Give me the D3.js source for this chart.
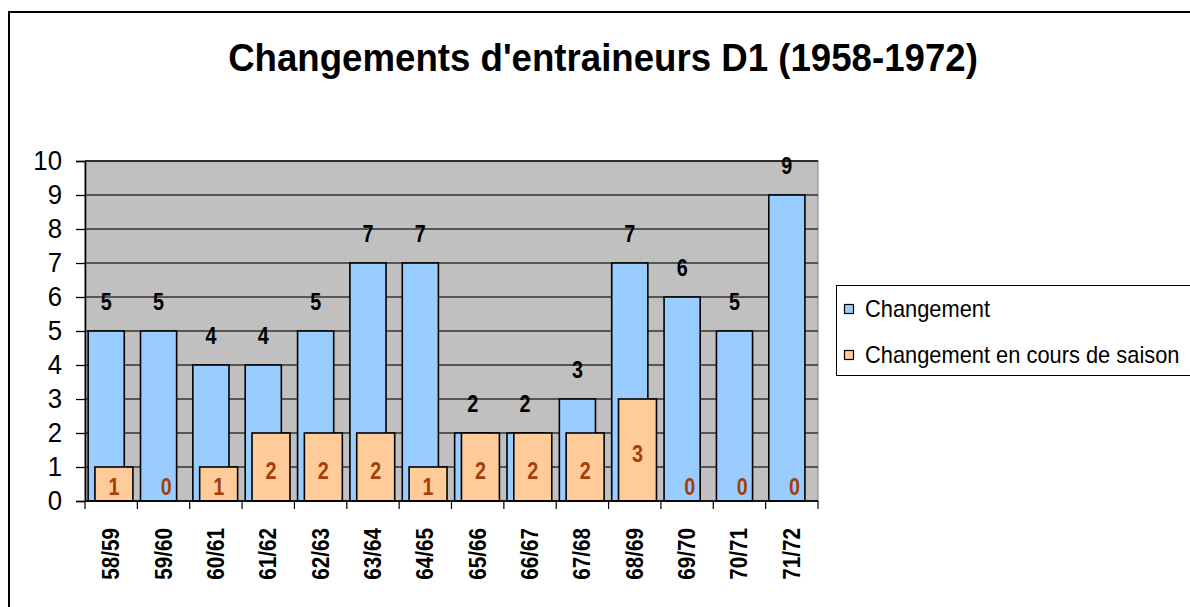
<!DOCTYPE html>
<html>
<head>
<meta charset="utf-8">
<script src="https://cdn.jsdelivr.net/npm/d3@7"></script>
<style>
  body { margin: 0; background: #fff; }
  svg { display: block; font-family: Arial, "Liberation Sans", sans-serif; }
</style>
</head>
<body>
<div id="chart"></div>
<script>
// data
var seasons = ['58/59','59/60','60/61','61/62','62/63','63/64','64/65','65/66','66/67','67/68','68/69','69/70','70/71','71/72']
var changement = [5, 5, 4, 4, 5, 7, 7, 2, 2, 3, 7, 6, 5, 9]
var changementSaison = [1, 0, 1, 2, 2, 2, 1, 2, 2, 2, 3, 0, 0, 0]
var yTicks = [0,1,2,3,4,5,6,7,8,9,10]
var seriesNames = ['Changement', 'Changement en cours de saison']
var colors = ['#99CCFF', '#FFCC99']

const width = 1190, height = 607
const plot = {left: 85, right: 818, top: 161, bottom: 501}

const svg = d3.select('#chart').append('svg')
    .attr('width', width)
    .attr('height', height)

// outer frame
svg.append('rect')
    .attr('x', 9).attr('y', 12)
    .attr('width', 1200).attr('height', 620)
    .attr('fill', 'none')
    .attr('stroke', '#000')
    .attr('stroke-width', 2)

// title (the original font is tall and narrow)
const title = svg.append('text')
    .attr('x', 0).attr('y', 0)
    .attr('text-anchor', 'middle')
    .attr('font-size', 38)
    .attr('font-weight', 'bold')
    .text("Changements d'entraineurs D1 (1958-1972)")
const tw = title.node().getComputedTextLength()
title.attr('transform', `translate(603,71) scale(${750 / tw},1)`)

// scales
const xScale = d3.scaleBand()
    .domain(seasons)
    .range([plot.left, plot.right])
    .padding(0)

const yScale = d3.scaleLinear()
    .domain([0, 10])
    .range([plot.bottom, plot.top])

const bw = xScale.bandwidth()

// plot background
svg.append('rect')
    .attr('x', plot.left).attr('y', plot.top)
    .attr('width', plot.right - plot.left)
    .attr('height', plot.bottom - plot.top)
    .attr('fill', '#C0C0C0')
    .attr('stroke', '#808080')
    .attr('stroke-width', 1)

// grid lines
svg.append('g')
    .selectAll('line')
    .data(yTicks)
    .enter()
    .append('line')
    .attr('x1', plot.left).attr('x2', plot.right)
    .attr('y1', d => yScale(d)).attr('y2', d => yScale(d))
    .attr('stroke', d => d == 10 ? '#000' : '#333')
    .attr('stroke-width', 1.3)

// blue bars
svg.append('g')
    .selectAll('rect')
    .data(changement)
    .enter()
    .append('rect')
    .attr('x', (d, i) => xScale(seasons[i]) + bw * 0.06)
    .attr('width', bw * 0.69)
    .attr('y', d => yScale(d))
    .attr('height', d => yScale(0) - yScale(d))
    .attr('fill', colors[0])
    .attr('stroke', '#000')
    .attr('stroke-width', 1.6)

// orange bars (skip zero values)
svg.append('g')
    .selectAll('rect')
    .data(changementSaison.map((v, i) => ({season: seasons[i], value: v})).filter(d => d.value > 0))
    .enter()
    .append('rect')
    .attr('x', d => xScale(d.season) + bw * 0.19)
    .attr('width', bw * 0.725)
    .attr('y', d => yScale(d.value))
    .attr('height', d => yScale(0) - yScale(d.value))
    .attr('fill', colors[1])
    .attr('stroke', '#000')
    .attr('stroke-width', 1.6)

// y axis
const yAxis = d3.axisLeft(yScale).tickValues(yTicks).tickSize(9).tickPadding(14)
const yAxisGroup = svg.append('g')
    .attr('transform', `translate(${plot.left},0)`)
    .call(yAxis)
yAxisGroup.select('.domain').attr('stroke', '#000').attr('stroke-width', 1.6)
yAxisGroup.selectAll('.tick line').attr('stroke', '#000').attr('stroke-width', 1.3)
yAxisGroup.selectAll('.tick text')
    .attr('font-size', 28)
    .attr('font-family', 'Arial, "Liberation Sans", sans-serif')
    .attr('fill', '#000')
    .attr('x', 0)
    .attr('transform', 'translate(-23,0) scale(0.92,1)')

// x axis line and ticks between categories
svg.append('line')
    .attr('x1', plot.left).attr('x2', plot.right)
    .attr('y1', plot.bottom).attr('y2', plot.bottom)
    .attr('stroke', '#000').attr('stroke-width', 1.6)

svg.append('g')
    .selectAll('line')
    .data(seasons.concat(['end']))
    .enter()
    .append('line')
    .attr('x1', (d, i) => plot.left + i * bw)
    .attr('x2', (d, i) => plot.left + i * bw)
    .attr('y1', plot.bottom).attr('y2', plot.bottom + 8)
    .attr('stroke', '#000').attr('stroke-width', 1.2)

svg.append('g')
    .selectAll('text')
    .data(seasons)
    .enter()
    .append('text')
    .attr('transform', d => `translate(${xScale(d) + bw / 2 + 8},528) rotate(-90) scale(0.86,1)`)
    .attr('text-anchor', 'end')
    .attr('font-size', 24)
    .attr('font-weight', 'bold')
    .text(d => d)

// value labels
svg.append('g')
    .selectAll('text')
    .data(changement)
    .enter()
    .append('text')
    .attr('transform', (d, i) => `translate(${xScale(seasons[i]) + bw * 0.405},${yScale(d) - 29}) scale(0.86,1)`)
    .attr('dy', '0.36em')
    .attr('text-anchor', 'middle')
    .attr('font-size', 23)
    .attr('font-weight', 'bold')
    .attr('fill', '#000')
    .text(d => d)

svg.append('g')
    .selectAll('text')
    .data(changementSaison)
    .enter()
    .append('text')
    .attr('transform', (d, i) => `translate(${xScale(seasons[i]) + bw * 0.5525},${Math.min(yScale(d / 2) + 4, yScale(0) - 14)}) scale(0.86,1)`)
    .attr('dy', '0.36em')
    .attr('text-anchor', 'middle')
    .attr('font-size', 23)
    .attr('font-weight', 'bold')
    .attr('fill', '#A33F0A')
    .text(d => d)

// legend
const legend = svg.append('g')
legend.append('rect')
    .attr('x', 836.5).attr('y', 285.5)
    .attr('width', 400).attr('height', 90)
    .attr('fill', '#fff')
    .attr('stroke', '#000')
    .attr('stroke-width', 1)

const items = legend.selectAll('g')
    .data(seriesNames)
    .enter()
    .append('g')
    .attr('transform', (d, i) => `translate(0,${309 + i * 46})`)

items.append('rect')
    .attr('x', 844.5).attr('y', -4.5)
    .attr('width', 9).attr('height', 9)
    .attr('fill', (d, i) => colors[i])
    .attr('stroke', '#000')
    .attr('stroke-width', 1.2)

items.append('text')
    .attr('transform', 'translate(865,0) scale(0.95,1)')
    .attr('dy', '0.36em')
    .attr('font-size', 23)
    .text(d => d)
</script>
</body>
</html>
